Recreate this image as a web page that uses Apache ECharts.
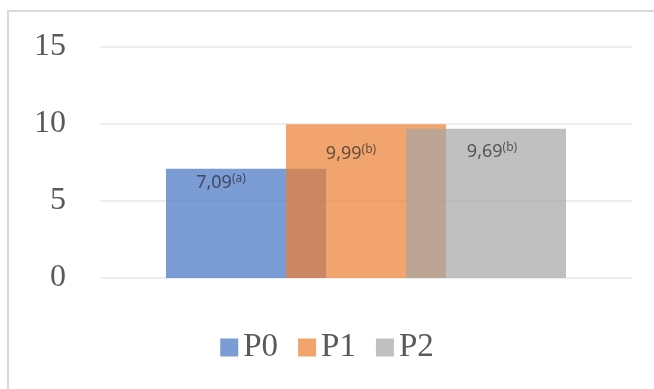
<!DOCTYPE html>
<html>
<head>
<meta charset="utf-8">
<script src="https://cdn.jsdelivr.net/npm/echarts@6/dist/echarts.min.js"></script>
<style>
    html, body { margin: 0; padding: 0; background: #fff; }
    #myChart { width: 654px; height: 389px; }
</style>
</head>
<body>
<div id="myChart"></div>
<script>
// data
var seriesNames = ['P0', 'P1', 'P2'];
var values = [7.09, 9.99, 9.69];
var letters = ['a', 'b', 'b'];
var colors = ['#4472C4', '#ED7D31', '#A5A5A5'];
var yTicks = [0, 5, 10, 15];

window.onload = function () {
    var myChart = echarts.init(document.getElementById('myChart'));

    // label placement tweaks, to sit like in the picture
    var labelDist = [4, 19, 13];
    var labelShift = [-25, -15, 6];

    var series = seriesNames.map(function (name, i) {
        return {
            name: name,
            type: 'bar',
            data: [values[i]],
            barWidth: 160,
            barGap: '-25%',
            itemStyle: { color: colors[i], opacity: 0.7 },
            label: {
                show: true,
                position: 'insideTop',
                distance: labelDist[i],
                offset: [labelShift[i], 0],
                formatter: function (p) {
                    return '{v|' + String(p.value).replace('.', ',') + '}{sup|(' + letters[i] + ')}';
                },
                rich: {
                    v: { fontSize: 18, color: '#262626', fontFamily: 'Noto Sans' },
                    sup: { fontSize: 12, verticalAlign: 'top', padding: [0, 0, 9, 0], color: '#262626', fontFamily: 'Noto Sans' }
                }
            },
            emphasis: { disabled: true }
        };
    });

    var option = {
        animation: false,
        graphic: [{
            type: 'rect',
            shape: { x: 8, y: 11, width: 700, height: 420 },
            style: { fill: 'none', stroke: '#d9d9d9', lineWidth: 2 }
        }],
        legend: {
            data: seriesNames,
            bottom: 20,
            left: 'center',
            itemWidth: 18,
            itemHeight: 18,
            itemGap: 20,
            icon: 'rect',
            textStyle: { fontFamily: 'Liberation Serif', fontSize: 33, color: '#595959' }
        },
        grid: { left: 100, right: 22, top: 47, bottom: 111 },
        xAxis: {
            type: 'category',
            data: [''],
            axisLine: { show: false },
            axisTick: { show: false },
            axisLabel: { show: false }
        },
        yAxis: {
            type: 'value',
            min: yTicks[0],
            max: yTicks[yTicks.length - 1],
            interval: 5,
            axisLine: { show: false },
            axisTick: { show: false },
            axisLabel: {
                margin: 34,
                fontFamily: 'Liberation Serif',
                fontSize: 32,
                color: '#595959'
            },
            splitLine: { lineStyle: { color: '#eeeeee', width: 2 } }
        },
        series: series
    };

    myChart.setOption(option);
};
</script>
</body>
</html>
